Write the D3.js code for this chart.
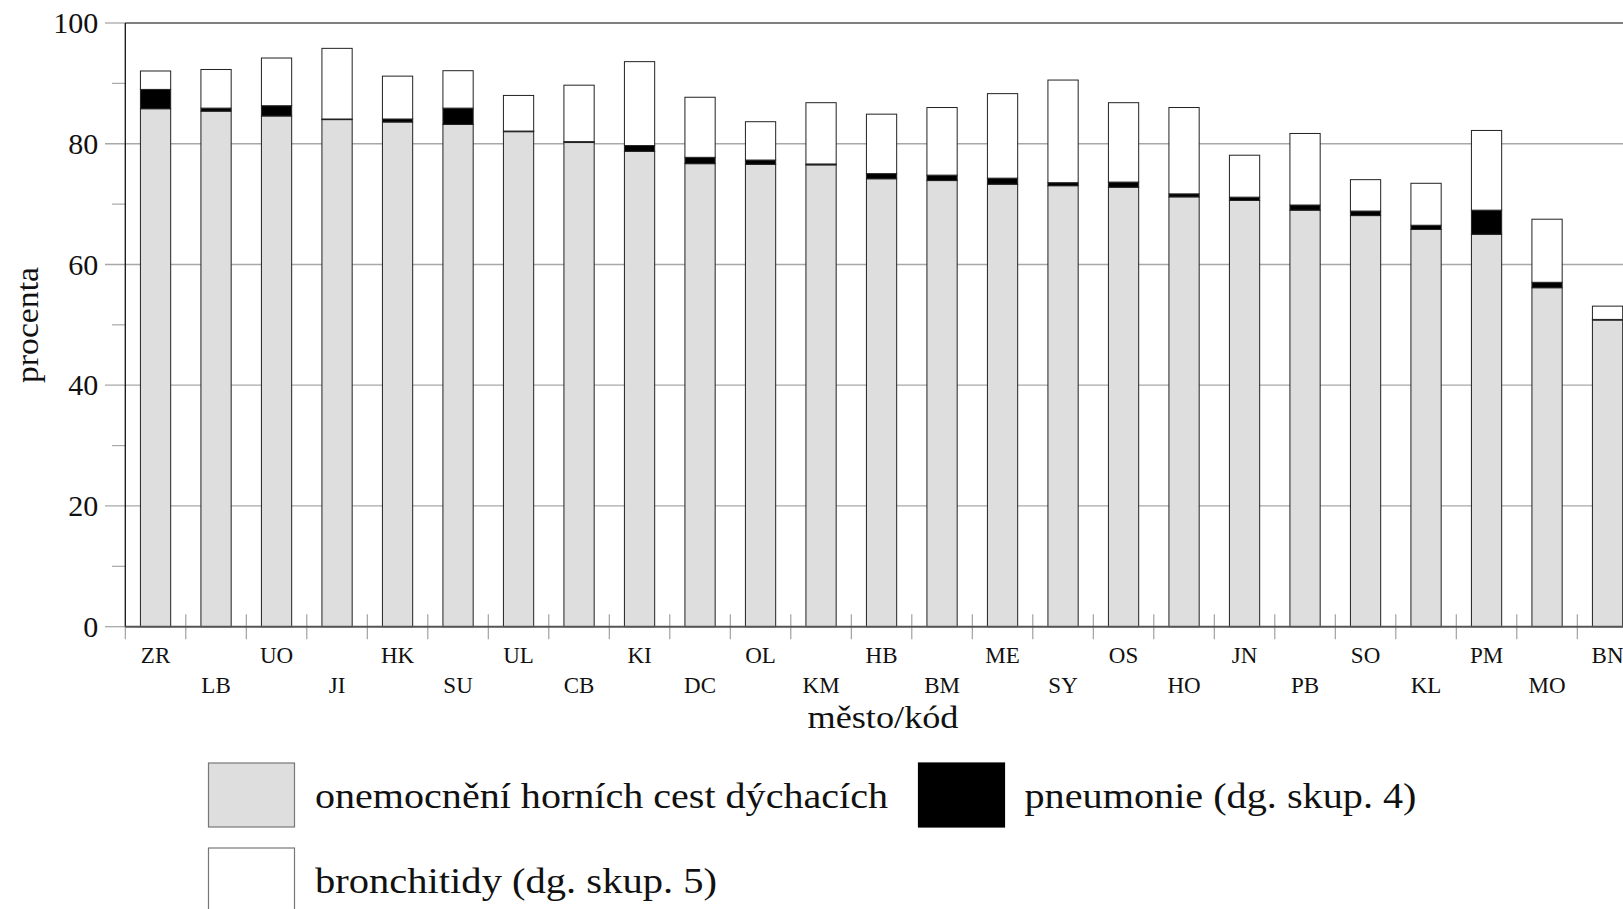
<!DOCTYPE html>
<html><head><meta charset="utf-8">
<script src="https://cdn.jsdelivr.net/npm/d3@7"></script>
<style>
html,body{margin:0;padding:0;background:#fff;overflow:hidden}
text{font-family:"Liberation Serif","Times New Roman",serif;fill:#111}
</style></head>
<body>
<svg id="chart" width="1623" height="909"></svg>
<script>
const categories = ["ZR","LB","UO","JI","HK","SU","UL","CB","KI","DC","OL","KM","HB","BM","ME","SY","OS","HO","JN","PB","SO","KL","PM","MO","BN"];
const horniCesty = [85.8,85.4,84.6,84.0,83.6,83.2,82.0,80.2,78.75,76.7,76.6,76.5,74.2,73.9,73.3,73.05,72.8,71.2,70.6,69.0,68.1,65.8,65.0,56.15,50.8];
const pneumonie  = [3.2,0.5,1.7,0.1,0.5,2.7,0.1,0.15,0.95,1.05,0.7,0.15,0.85,0.9,1.0,0.5,0.85,0.5,0.55,0.85,0.75,0.7,4.0,0.9,0.1];
const bronchitidy= [3.05,6.4,7.9,11.7,7.1,6.2,5.9,9.35,13.9,9.95,6.35,10.15,9.85,11.2,14.0,17.0,13.15,14.3,6.95,11.85,5.2,6.95,13.2,10.45,2.2];
const yTicks = [0,20,40,60,80,100];
const yMinor = [10,30,50,70,90];
const seriesNames = ["onemocnění horních cest dýchacích","pneumonie (dg. skup. 4)","bronchitidy (dg. skup. 5)"];
const seriesColors = ["#dedede","#000000","#ffffff"];

const svg = d3.select("#chart");
const x0 = 125.3, step = 60.5;
const x = d3.scaleBand().domain(categories).range([x0, x0 + step*categories.length]).paddingInner(0.5).paddingOuter(0.25);
const y = d3.scaleLinear().domain([0,100]).range([626.7, 23]);
const W = 1623;

// gridlines
svg.append("g").selectAll("line").data(yTicks.filter(d=>d>0 && d<100)).join("line")
  .attr("x1",105).attr("x2",W).attr("y1",d=>y(d)).attr("y2",d=>y(d))
  .attr("stroke","#a8a8a8").attr("stroke-width",1.3);
// stubs for 0 and 100
svg.append("g").selectAll("line").data([0,100]).join("line")
  .attr("x1",105).attr("x2",x0).attr("y1",d=>y(d)).attr("y2",d=>y(d))
  .attr("stroke","#a8a8a8").attr("stroke-width",1.3);
// minor ticks
svg.append("g").selectAll("line").data(yMinor).join("line")
  .attr("x1",112).attr("x2",x0).attr("y1",d=>y(d)).attr("y2",d=>y(d))
  .attr("stroke","#a8a8a8").attr("stroke-width",1.2);
// top frame
svg.append("line").attr("x1",x0).attr("x2",W).attr("y1",y(100)).attr("y2",y(100))
  .attr("stroke","#555").attr("stroke-width",1.3);

// category boundary ticks
svg.append("g").selectAll("line").data(categories.map((c,i)=>i)).join("line")
  .attr("x1",i=>x0+i*x.step()).attr("x2",i=>x0+i*x.step())
  .attr("y1",i=> i===0 ? y(0) : y(0)-12.5).attr("y2",y(0)+12.5)
  .attr("stroke","#999").attr("stroke-width",1.1);

// stacked bars
const rows = categories.map((c,i)=>({cat:c, s0:horniCesty[i], s1:pneumonie[i], s2:bronchitidy[i]}));
const stack = d3.stack().keys(["s0","s1","s2"])(rows);
svg.append("g").selectAll("g").data(stack).join("g")
  .attr("fill",(d,i)=>seriesColors[i])
  .selectAll("rect").data(d=>d.filter(e=>e[1]-e[0]>0)).join("rect")
  .attr("x",d=>x(d.data.cat)).attr("width",x.bandwidth())
  .attr("y",d=>y(d[1])).attr("height",d=>y(d[0])-y(d[1]))
  .attr("stroke","#222").attr("stroke-width",1);

// y axis line
svg.append("line").attr("x1",x0).attr("x2",x0).attr("y1",y(100)).attr("y2",y(0))
  .attr("stroke","#111").attr("stroke-width",1.3);
// x axis line
svg.append("line").attr("x1",x0).attr("x2",W).attr("y1",y(0)).attr("y2",y(0))
  .attr("stroke","#555").attr("stroke-width",2);

// y tick labels
const yAxis = svg.append("g").attr("transform",`translate(${x0},0)`)
  .call(d3.axisLeft(y).tickValues(yTicks).tickSize(0).tickPadding(27));
yAxis.select(".domain").remove();
yAxis.selectAll("text").style("font-size","30px").style("font-family","Liberation Serif").attr("fill","#111");

// x tick labels
const xAxis = svg.append("g").attr("transform",`translate(0,${y(0)})`)
  .call(d3.axisBottom(x).tickSize(0).tickPadding(0));
xAxis.select(".domain").remove();
xAxis.selectAll("text").style("font-size","23px").style("font-family","Liberation Serif").attr("fill","#111")
  .attr("dy",null).attr("y",(d,i)=> i%2===0 ? 36.5 : 66.5);

// axis titles
svg.append("text").attr("x",883).attr("y",728).attr("text-anchor","middle")
  .style("font-size","31px").attr("textLength",151).attr("lengthAdjust","spacingAndGlyphs").text("město/kód");
svg.append("text").attr("transform","translate(38,325) rotate(-90)").attr("text-anchor","middle")
  .style("font-size","31px").attr("textLength",116).attr("lengthAdjust","spacingAndGlyphs").text("procenta");

// legend
const legend = [
  {name:seriesNames[0], color:seriesColors[0], bx:208.5, by:763, tx:315, tw:573},
  {name:seriesNames[1], color:seriesColors[1], bx:918.5, by:763, tx:1024.5, tw:392},
  {name:seriesNames[2], color:seriesColors[2], bx:208.5, by:848, tx:315, tw:402}
];
const lg = svg.append("g").selectAll("g").data(legend).join("g");
lg.append("rect").attr("x",d=>d.bx).attr("y",d=>d.by).attr("width",86).attr("height",64)
  .attr("fill",d=>d.color).attr("stroke",d=>d.color==="#000000"?"#000":"#777").attr("stroke-width",1.2);
lg.append("text").attr("x",d=>d.tx).attr("y",d=>d.by+45).style("font-size","36px")
  .attr("textLength",d=>d.tw).attr("lengthAdjust","spacingAndGlyphs").text(d=>d.name);
</script>
</body></html>
